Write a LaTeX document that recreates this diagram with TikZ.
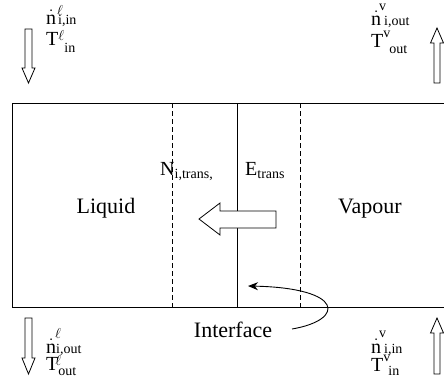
\documentclass[tikz,border=0pt]{standalone}
\usepackage{fontspec}
\setmainfont{Liberation Serif}
\usepackage{amsmath}
\usetikzlibrary{arrows.meta}
\newcommand{\supx}[2]{\rlap{\raisebox{#1}{\fontsize{14}{16}\selectfont #2}}}
\newcommand{\subx}[2]{\raisebox{-#1}{\fontsize{14}{16}\selectfont #2}}
\newcommand{\ndot}{$\dot{\text{n}}$}
\begin{document}
\begin{tikzpicture}[x=1pt,y=-1pt,
  lbl/.style={inner sep=0pt, anchor=base, font=\fontsize{22}{26}\selectfont},
  flow/.style={inner sep=0pt, anchor=base west, font=\fontsize{20}{24}\selectfont},
  wall/.style={line width=1pt},
  dashline/.style={line width=0.8pt, dash pattern=on 5pt off 3pt},
  hollow/.style={draw, line width=0.8pt, fill=white, line join=miter},
  curved/.style={line width=0.9pt, -{Stealth[length=10pt,width=8pt]}}]
\useasboundingbox (0,0) rectangle (444,381);
% vessel
\draw[wall] (444,103) -- (12,103) -- (12,307) -- (444,307);
\draw[dashline] (172,103) -- (172,307);
\draw[dashline] (300,103) -- (300,307);
\draw[line width=0.9pt] (237,103) -- (237,307);
% transfer arrow
\draw[hollow] (199,219) -- (220,203) -- (220,211) -- (276,211) -- (276,228) -- (220,228) -- (220,235) -- cycle;
% flow arrows
\draw[hollow] (25,29) -- (32,29) -- (32,68) -- (35,68) -- (28.5,83) -- (22,68) -- (25,68) -- cycle;
\draw[hollow] (25,318) -- (32,318) -- (32,358) -- (35,358) -- (28.5,374) -- (22,358) -- (25,358) -- cycle;
\draw[hollow] (434,83) -- (440,83) -- (440,43) -- (443.5,43) -- (437,28) -- (430.5,43) -- (434,43) -- cycle;
\draw[hollow] (434,374) -- (440,374) -- (440,333) -- (443.5,333) -- (437,318) -- (430.5,333) -- (434,333) -- cycle;
% texts
\node[lbl] (liq) at (106,213) {Liquid};
\node[lbl] (vap) at (370,213) {Vapour};
\node[lbl] (intf) at (233,337) {Interface};
\node[flow] (ntr) at (160,175) {N$_{\text{i,trans,}}$};
\node[flow] (etr) at (245,175) {E$_{\text{trans}}$};
\node[flow] (nlin) at (46,24) {\ndot\kern1pt\supx{9pt}{$\ell$}\hspace{1pt}\subx{0pt}{i,in}};
\node[flow] (tlin) at (46,45) {T\kern0pt\supx{5pt}{$\ell$}\hspace{6pt}\subx{7pt}{in}};
\node[flow] (nvout) at (371,25) {\ndot\kern-2pt\supx{15pt}{v}\hspace{5pt}\subx{0pt}{i,out}};
\node[flow] (tvout) at (371,47) {T\supx{10pt}{v}\hspace{6pt}\subx{6pt}{out}};
\node[flow] (nlout) at (46,353) {\ndot\kern-1pt\supx{15pt}{$\ell$}\hspace{1pt}\subx{0pt}{i,out}};
\node[flow] (tlout) at (46,370) {T\kern-3pt\supx{5pt}{$\ell$}\hspace{3pt}\subx{5pt}{out}};
\node[flow] (nvin) at (371,353) {\ndot\kern-2pt\supx{16pt}{v}\hspace{5pt}\subx{0pt}{i,in}};
\node[flow] (tvin) at (371,371) {T\supx{10pt}{v}\hspace{5pt}\subx{4pt}{in}};
% interface pointer
\coordinate (cs) at (292,329);
\coordinate (ce) at (248,286);
\draw[curved] (cs) .. controls (345,320) and (345,288) .. (ce);
\end{tikzpicture}
\end{document}
